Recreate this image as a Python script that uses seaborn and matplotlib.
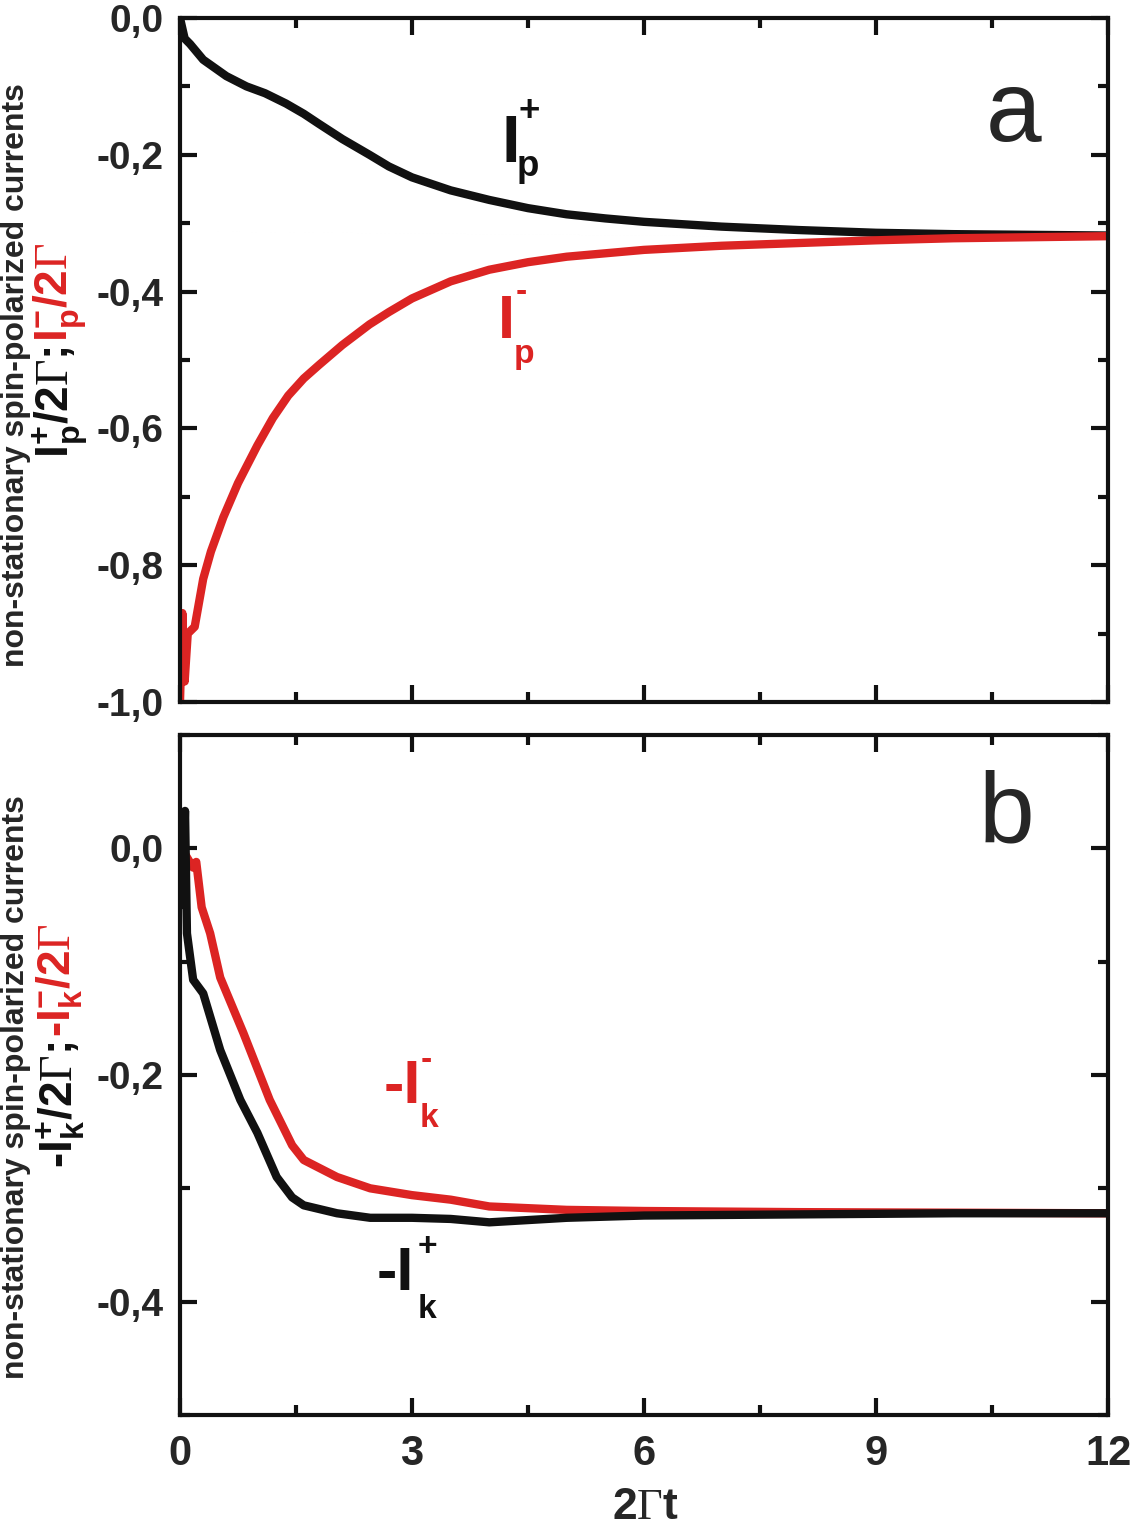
import numpy as np
import pandas as pd
import matplotlib
matplotlib.use("Agg")
import matplotlib.pyplot as plt
import seaborn as sns
from matplotlib.ticker import MultipleLocator, FuncFormatter, FixedLocator

# ---------------- data ----------------
t_pp = [0, 0.02, 0.06, 0.13, 0.3, 0.6, 0.86, 1.1, 1.37, 1.6, 1.8, 2.1, 2.45, 2.7, 3.0, 3.5,
        4.0, 4.5, 5.0, 5.5, 6.0, 7.0, 8.0, 9.0, 10.0, 11.0, 12.0]
I_pp = [0.0, -0.01, -0.03, -0.038, -0.061, -0.085, -0.10, -0.11, -0.125, -0.14, -0.155,
        -0.177, -0.20, -0.217, -0.233, -0.252, -0.266, -0.278, -0.287, -0.293, -0.298, -0.305,
        -0.310, -0.314, -0.316, -0.317, -0.318]

t_pm = [0, 0.03, 0.06, 0.1, 0.19, 0.3, 0.4, 0.56, 0.75, 1.0, 1.2, 1.4, 1.6, 1.8, 2.1, 2.45,
        2.7, 3.0, 3.5, 4.0, 4.5, 5.0, 6.0, 7.0, 8.0, 9.0, 10.0, 12.0]
I_pm = [-1.0, -0.87, -0.97, -0.90, -0.89, -0.82, -0.78, -0.73, -0.68, -0.625, -0.585,
        -0.552, -0.527, -0.507, -0.478, -0.448, -0.43, -0.41, -0.385, -0.368, -0.357, -0.349,
        -0.339, -0.333, -0.329, -0.325, -0.322, -0.319]

t_kp = [0, 0.03, 0.065, 0.09, 0.17, 0.3, 0.52, 0.78, 1.0, 1.25, 1.45, 1.6, 2.03, 2.46, 3.0,
        3.5, 4.0, 5.0, 6.0, 8.0, 10.0, 12.0]
I_kp = [-0.01, -0.05, 0.033, -0.075, -0.116, -0.128, -0.178, -0.222, -0.251, -0.29, -0.308,
        -0.315, -0.322, -0.326, -0.326, -0.327, -0.330, -0.326, -0.324, -0.323, -0.322, -0.322]

t_km = [0, 0.02, 0.17, 0.21, 0.28, 0.39, 0.52, 0.82, 1.16, 1.45, 1.6, 2.03, 2.46, 3.0, 3.5,
        4.0, 5.0, 6.0, 8.0, 12.0]
I_km = [-0.005, 0.0, -0.017, -0.012, -0.052, -0.075, -0.114, -0.163, -0.222, -0.262, -0.275,
        -0.29, -0.30, -0.306, -0.31, -0.316, -0.319, -0.32, -0.321, -0.322]

x_ticks = [0, 3, 6, 9, 12]
top_yticks = [0.0, -0.2, -0.4, -0.6, -0.8, -1.0]
bot_yticks = [0.0, -0.2, -0.4]

RED = "#DC2423"
BLACK = "#111111"

# ---------------- style ----------------
sns.set_style("ticks")
plt.rcParams["font.family"] = ["Liberation Sans", "DejaVu Sans"]
plt.rcParams["mathtext.fontset"] = "custom"
plt.rcParams["mathtext.rm"] = "Liberation Serif"
plt.rcParams["mathtext.bf"] = "Liberation Sans:bold"
plt.rcParams["mathtext.it"] = "Liberation Sans:italic"
plt.rcParams["mathtext.sf"] = "Liberation Sans"

W, H = 1130, 1525
fig = plt.figure(figsize=(W / 100, H / 100), dpi=100)
L, R = 180 / W, 1108 / W
ax1 = fig.add_axes([L, 1 - 702 / H, R - L, (702 - 18) / H])
ax2 = fig.add_axes([L, 1 - 1415 / H, R - L, (1415 - 735) / H])

LW = 6.0
for ax, curves in [(ax1, [(t_pp, I_pp, BLACK), (t_pm, I_pm, RED)]),
                   (ax2, [(t_km, I_km, RED), (t_kp, I_kp, BLACK)])]:
    for tt, yy, c in curves:
        df = pd.DataFrame({"t": tt, "I": yy})
        sns.lineplot(data=df, x="t", y="I", ax=ax, color=c, lw=LW, sort=False,
                     estimator=None, solid_joinstyle="round", solid_capstyle="butt")

fmt = FuncFormatter(lambda v, p: f"{v:.1f}".replace(".", ",").replace("-0,0", "0,0"))
for ax in (ax1, ax2):
    ax.set_xlim(0, 12)
    ax.xaxis.set_major_locator(FixedLocator(x_ticks))
    ax.xaxis.set_minor_locator(MultipleLocator(1.5))
    ax.yaxis.set_minor_locator(MultipleLocator(0.1))
    ax.yaxis.set_major_formatter(fmt)
    ax.tick_params(which="both", direction="in", top=True, right=True, width=3, color=BLACK)
    ax.tick_params(which="major", length=12)
    ax.tick_params(which="minor", length=7)
    ax.tick_params(axis="y", labelsize=28, pad=12)
    ax.tick_params(axis="x", labelsize=30, pad=14)
    for s in ax.spines.values():
        s.set_linewidth(3)
        s.set_color(BLACK)
    ax.set_xlabel("")
    ax.set_ylabel("")

ax1.set_ylim(-1.0, 0.0)
ax1.yaxis.set_major_locator(FixedLocator(top_yticks))
ax1.tick_params(axis="x", labelbottom=False)
ax2.set_ylim(-0.5, 0.1)
ax2.yaxis.set_major_locator(FixedLocator(bot_yticks))
ax2.xaxis.set_major_formatter(FuncFormatter(lambda v, p: f"{int(v)}"))
for ax in (ax1, ax2):
    for lab in ax.get_xticklabels() + ax.get_yticklabels():
        lab.set_fontweight("bold")

# x label (2Γt)
fig.text(645 / W, 1 - 1519 / H, r"$\mathbf{2}\Gamma\mathbf{t}$", fontsize=32,
         ha="center", va="baseline")

# panel letters
ax1.text(0.898, 0.858, "a", transform=ax1.transAxes, fontsize=72, ha="center", va="center")
ax2.text(0.891, 0.88, "b", transform=ax2.transAxes, fontsize=72, ha="center", va="center")


def ptext(x, y, s, fs, color, va="baseline", ha="left", **kw):
    return fig.text(x / W, 1 - y / H, s, fontsize=fs, color=color, ha=ha, va=va,
                    fontweight="bold", **kw)


# curve labels (pixel positions: left edge, baseline)
def curve_label(main, x_main, base_main, sup, x_sup, base_sup, sub, x_sub, base_sub, fs, color):
    ptext(x_main, base_main, main, fs, color)
    ptext(x_sup, base_sup, sup, fs * 0.55, color)
    ptext(x_sub, base_sub, sub, fs * 0.55, color)


curve_label("I", 501, 162, "+", 519, 121, "p", 517, 176, 48, BLACK)
curve_label("I", 498, 338, "-", 516, 301, "p", 514, 363, 44, RED)
curve_label("-I", 384, 1103, "-", 421, 1069, "k", 420, 1127, 44, RED)
curve_label("-I", 377, 1290, "+", 418, 1256, "k", 418, 1318, 44, BLACK)

# y labels
fig.text(16 / W, 1 - 375 / H, "non-stationary spin-polarized currents", rotation=90,
         fontsize=23, fontweight="bold", ha="center", va="center")
fig.text(16 / W, 1 - 1087 / H, "non-stationary spin-polarized currents", rotation=90,
         fontsize=23, fontweight="bold", ha="center", va="center")

fig.canvas.draw()
rend = fig.canvas.get_renderer()


def two_part(x_px, y_bottom_px, s1, s2, fs):
    t1 = fig.text(x_px / W, 1 - y_bottom_px / H, s1, rotation=90, fontsize=fs,
                  color=BLACK, ha="center", va="bottom", fontweight="bold")
    fig.canvas.draw()
    bb = t1.get_window_extent(rend)
    top = bb.y1 / fig.bbox.height
    fig.text(x_px / W, top, s2, rotation=90, fontsize=fs, color=RED, ha="center",
             va="bottom", fontweight="bold")


two_part(60, 458, r"$\mathbf{I}_{\mathbf{p}}^{\mathbf{+}}\mathbf{/2}\Gamma$; ",
         r"$\mathbf{I}_{\mathbf{p}}^{\mathbf{-}}\mathbf{/2}\Gamma$", 33)
two_part(60, 1168, r"-$\mathbf{I}_{\mathbf{k}}^{\mathbf{+}}\mathbf{/2}\Gamma$; ",
         r"-$\mathbf{I}_{\mathbf{k}}^{\mathbf{-}}\mathbf{/2}\Gamma$", 33)

fig.savefig("out.png", dpi=100)
